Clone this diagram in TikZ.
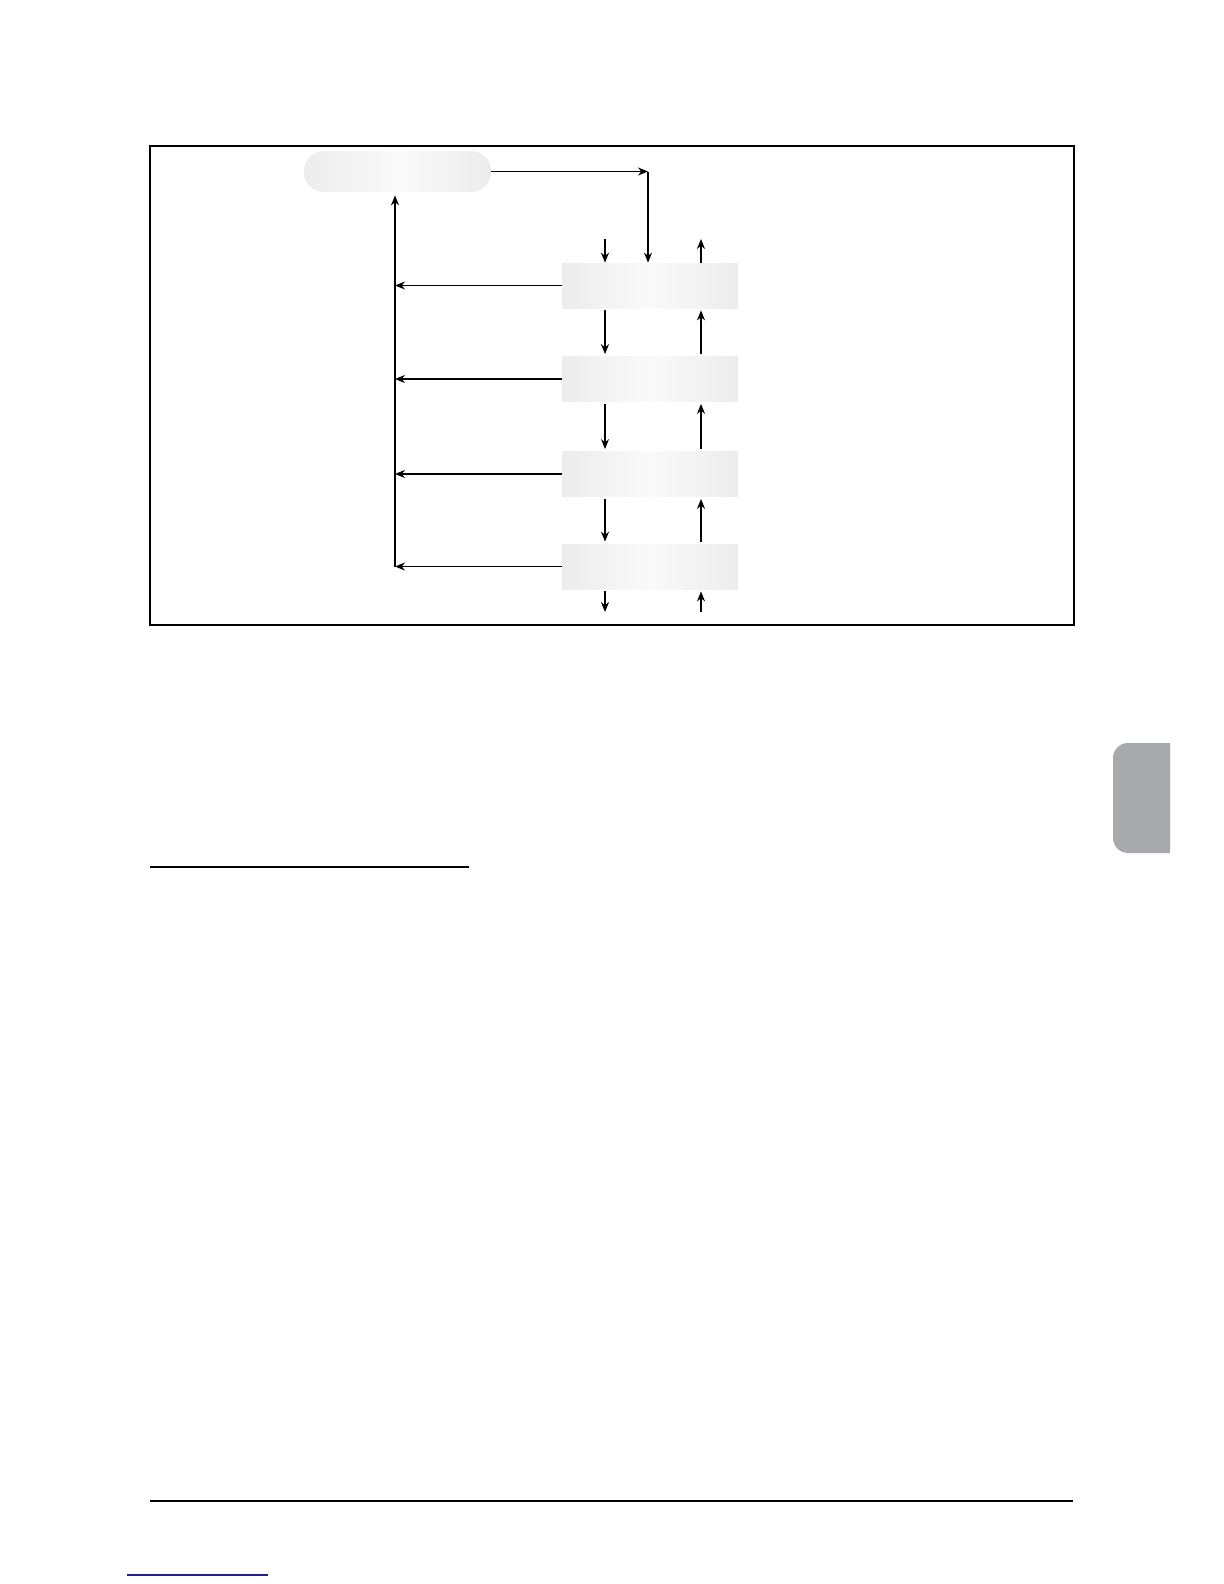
\documentclass[tikz,border=0pt]{standalone}
\usetikzlibrary{arrows.meta}
\definecolor{boxedge}{RGB}{236,236,236}
\definecolor{boxmid}{RGB}{250,250,250}
\definecolor{tabgray}{RGB}{167,169,172}
\definecolor{linkblue}{RGB}{30,30,140}
\begin{document}
\begin{tikzpicture}[x=0.5pt,y=-0.5pt,
  arr/.style={-{Stealth[length=5pt,width=4pt]}, line width=0.6pt},
  stagebox/.style={minimum width=88pt, minimum height=22.5pt, inner sep=0pt,
    left color=boxedge, right color=boxedge, middle color=boxmid},
  pillbox/.style={stagebox, minimum width=93.5pt, minimum height=20.5pt, rounded corners=10pt}]
\useasboundingbox (0,0) rectangle (1224,1584);
\fill[white] (0,0) rectangle (1224,1584);
% frame
\draw[line width=0.9pt] (150,146) rectangle (1074,625);
% nodes
\node[pillbox] (pill) at (397.5,171.5) {};
\node[stagebox] (b1) at (650,285.5) {};
\node[stagebox] (b2) at (650,379) {};
\node[stagebox] (b3) at (650,474) {};
\node[stagebox] (b4) at (650,566.5) {};
% helper coordinates
\coordinate (corner) at (648,171.5);
\coordinate (lx) at (395,566.5);
\coordinate (dx) at (605,0);
\coordinate (ux) at (701,0);
\coordinate (tin) at (605,239);
\coordinate (tout) at (701,239);
\coordinate (bout) at (605,612);
\coordinate (bin) at (701,612);
% top loop
\draw[arr] (pill.east) -- (corner);
\draw[arr] (corner) -- (corner |- b1.north);
\draw[arr] (lx) -- ([yshift=-1.5pt]lx |- pill.south);
% left arrows
\draw[arr] (b1.west) -- (b1.west -| lx);
\draw[arr] (b2.west) -- (b2.west -| lx);
\draw[arr] (b3.west) -- (b3.west -| lx);
\draw[arr] (b4.west) -- (b4.west -| lx);
% down arrows
\draw[arr] (tin) -- (tin |- b1.north);
\draw[arr, shorten <=1pt, shorten >=1pt] (b1.south -| dx) -- (b2.north -| dx);
\draw[arr, shorten <=1pt, shorten >=1pt] (b2.south -| dx) -- (b3.north -| dx);
\draw[arr, shorten <=1pt, shorten >=1pt] (b3.south -| dx) -- (b4.north -| dx);
\draw[arr, shorten <=1pt] (b4.south -| dx) -- (bout);
% up arrows
\draw[arr] (b1.north -| ux) -- (tout);
\draw[arr, shorten <=1pt, shorten >=1pt] (b2.north -| ux) -- (b1.south -| ux);
\draw[arr, shorten <=1pt, shorten >=1pt] (b3.north -| ux) -- (b2.south -| ux);
\draw[arr, shorten <=1pt, shorten >=1pt] (b4.north -| ux) -- (b3.south -| ux);
\draw[arr, shorten >=1pt] (bin) -- (b4.south -| ux);
% side tab
\fill[tabgray] (1170,743) [rounded corners=7.5pt] -- (1113,743) -- (1113,853) [sharp corners] -- (1170,853) -- cycle;
% section underline
\draw[line width=1.3pt] (150,867) -- (469,867);
% footer rule
\draw[line width=0.6pt] (150,1501) -- (1073,1501);
% link underline
\draw[linkblue, line width=0.6pt] (127,1575) -- (268,1575);
\end{tikzpicture}
\end{document}
